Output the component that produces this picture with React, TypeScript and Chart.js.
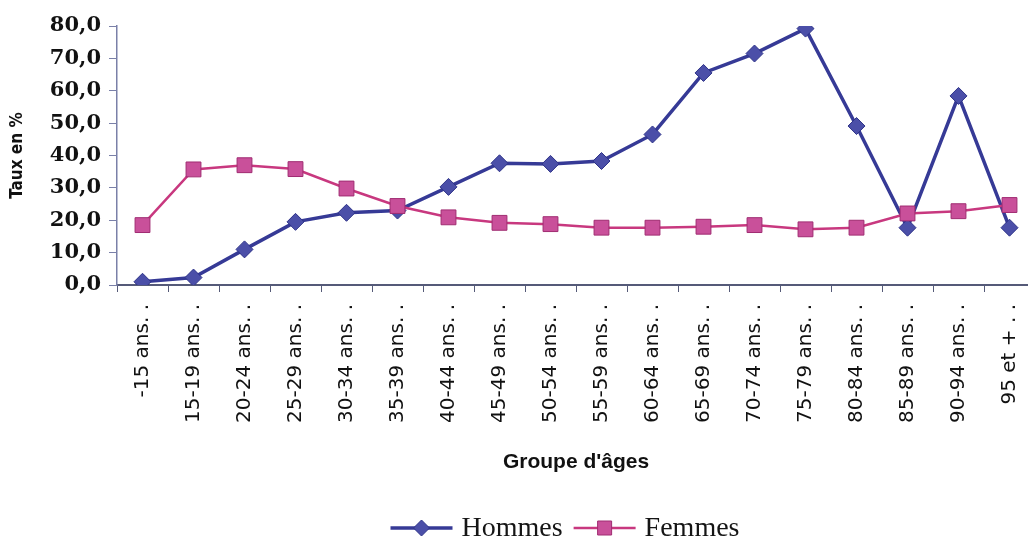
import React, { useEffect, useRef } from "react";
import { Chart, registerables } from "chart.js";

Chart.register(...registerables);

const categories = [
  "-15 ans. .", "15-19 ans. .", "20-24 ans. .", "25-29 ans. .", "30-34 ans. .",
  "35-39 ans. .", "40-44 ans. .", "45-49 ans. .", "50-54 ans. .", "55-59 ans. .",
  "60-64 ans. .", "65-69 ans. .", "70-74 ans. .", "75-79 ans. .", "80-84 ans. .",
  "85-89 ans. .", "90-94 ans. .", "95 et + . .",
];
const hommes = [1.0, 2.3, 11.0, 19.5, 22.3, 23.0, 30.3, 37.6, 37.4, 38.3, 46.5, 65.5, 71.5, 79.2, 49.1, 17.7, 58.4, 17.7];
const femmes = [18.5, 35.7, 37.0, 35.8, 29.8, 24.4, 20.9, 19.2, 18.8, 17.7, 17.7, 18.0, 18.5, 17.2, 17.7, 22.1, 22.8, 24.7];
const yMin = 0;
const yMax = 80;
const yStep = 10;
const yTitle = "Taux en %";
const xTitle = "Groupe d'âges";
const seriesNames = ["Hommes", "Femmes"];

const legendPlugin = {
  id: "lineLegend",
  afterDraw(chart: any) {
    const ctx = chart.ctx as CanvasRenderingContext2D;
    const ds = chart.data.datasets;
    const lineLen = 62;
    const gapText = 9;
    const gapItem = 11;
    const cy = 528;
    const centerX = 565;
    ctx.save();
    ctx.font = "28px 'Liberation Serif', 'Times New Roman', serif";
    ctx.textBaseline = "middle";
    const widths = ds.map((d: any) => ctx.measureText(d.label).width);
    let total = 0;
    ds.forEach((_: any, i: number) => {
      total += lineLen + gapText + widths[i];
      if (i < ds.length - 1) total += gapItem;
    });
    let x = centerX - total / 2;
    ds.forEach((d: any, i: number) => {
      ctx.strokeStyle = d.borderColor;
      ctx.lineWidth = d.borderWidth;
      ctx.beginPath();
      ctx.moveTo(x, cy);
      ctx.lineTo(x + lineLen, cy);
      ctx.stroke();
      const mx = x + lineLen / 2;
      ctx.fillStyle = d.pointBackgroundColor;
      ctx.strokeStyle = d.pointBorderColor;
      ctx.lineWidth = 1;
      ctx.beginPath();
      if (d.pointStyle === "rectRot") {
        const r = 8;
        ctx.moveTo(mx, cy - r);
        ctx.lineTo(mx + r, cy);
        ctx.lineTo(mx, cy + r);
        ctx.lineTo(mx - r, cy);
        ctx.closePath();
      } else {
        ctx.rect(mx - 7, cy - 7, 14, 14);
      }
      ctx.fill();
      ctx.stroke();
      ctx.fillStyle = "#151515";
      ctx.textAlign = "left";
      ctx.fillText(d.label, x + lineLen + gapText, cy + 1);
      x += lineLen + gapText + widths[i] + gapItem;
    });
    ctx.restore();
  },
};

export default function App() {
  const canvasRef = useRef<HTMLCanvasElement | null>(null);

  useEffect(() => {
    document.body.style.margin = "0";
    const canvas = canvasRef.current;
    if (!canvas) return;
    const chart = new Chart(canvas, {
      type: "line",
      data: {
        labels: categories,
        datasets: [
          {
            label: seriesNames[0],
            data: hommes,
            borderColor: "#363a96",
            borderWidth: 3.5,
            pointStyle: "rectRot",
            pointRadius: 8.5,
            pointBackgroundColor: "#4b4fa8",
            pointBorderColor: "#2e3388",
            pointBorderWidth: 1,
            tension: 0,
            order: 1,
          },
          {
            label: seriesNames[1],
            data: femmes,
            borderColor: "#c8387f",
            borderWidth: 2.5,
            pointStyle: "rect",
            pointRadius: 10.5,
            pointBackgroundColor: "#c9509a",
            pointBorderColor: "#a02c72",
            pointBorderWidth: 1,
            tension: 0,
            order: 0,
          },
        ],
      } as any,
      options: {
        animation: false,
        responsive: false,
        layout: { padding: { left: 3, top: 26, right: 25, bottom: 63 } },
        plugins: {
          legend: { display: false },
          tooltip: { enabled: false },
        },
        scales: {
          x: {
            type: "category",
            offset: true,
            grid: {
              offset: true,
              drawOnChartArea: false,
              drawTicks: true,
              tickLength: 7,
              color: "#555a78",
            },
            border: { display: true, color: "#555a78", width: 2 },
            ticks: {
              autoSkip: false,
              minRotation: 90,
              maxRotation: 90,
              padding: 12,
              color: "#111111",
              font: { family: "'DejaVu Sans', sans-serif", size: 20 },
            },
            title: {
              display: true,
              text: xTitle,
              color: "#111111",
              font: { family: "'Liberation Sans', Arial, sans-serif", size: 21, weight: "bold" },
              padding: { top: 4, bottom: 4 },
            },
            afterFit: (scale: any) => {
              scale.height = 194;
            },
          },
          y: {
            min: yMin,
            max: yMax,
            ticks: {
              stepSize: yStep,
              padding: 8,
              color: "#111111",
              font: { family: "'DejaVu Serif', serif", size: 21, weight: "bold" },
              callback: (v: any) => Number(v).toFixed(1).replace(".", ","),
            },
            grid: {
              drawOnChartArea: false,
              drawTicks: true,
              tickLength: 8,
              color: "#7a80a8",
            },
            border: { display: true, color: "#7a80a8", width: 1.5 },
            title: {
              display: true,
              text: yTitle,
              color: "#111111",
              font: { family: "'Liberation Sans Narrow', 'DejaVu Sans Condensed', sans-serif", size: 17, weight: "bold" },
              padding: { top: 4, bottom: 4 },
            },
            afterFit: (scale: any) => {
              scale.width = 114;
            },
          },
        },
      } as any,
      plugins: [legendPlugin],
    });
    return () => chart.destroy();
  }, []);

  return (
    <div style={{ width: 1028, height: 542, overflow: "hidden", position: "relative", background: "#ffffff" }}>
      <canvas ref={canvasRef} width={1060} height={542} style={{ display: "block" }} />
    </div>
  );
}
